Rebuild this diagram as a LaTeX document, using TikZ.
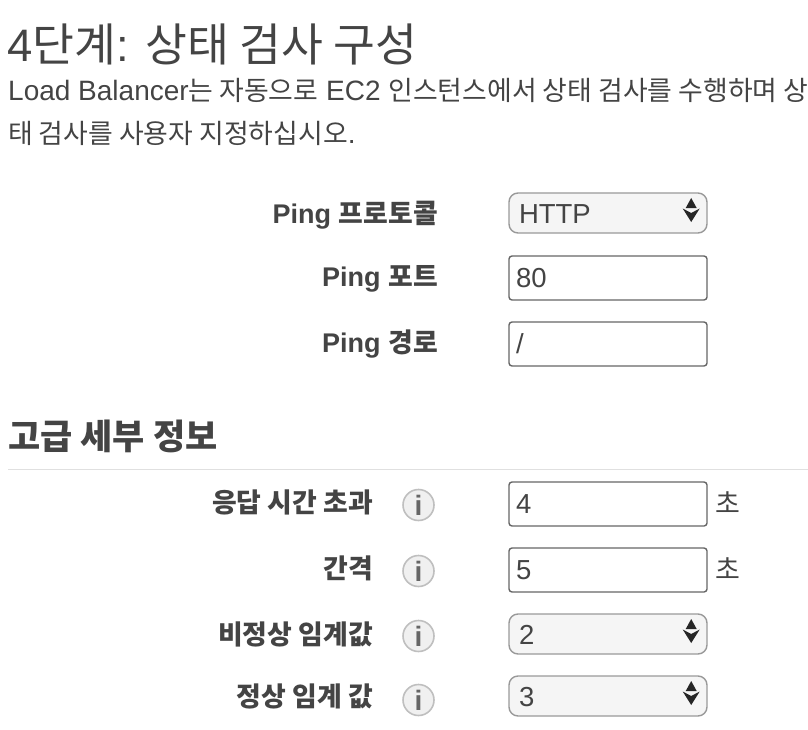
\documentclass[tikz,border=0pt]{standalone}
\usepackage{fontspec}
\setmainfont{Liberation Sans}
\newfontfamily\kofont[Scale=0.9]{Noto Sans CJK KR}
\newfontfamily\kolabel[Scale=0.96]{Noto Sans CJK KR}
\newfontfamily\kotall{Noto Sans CJK KR}
\newcommand{\ko}[1]{{\kofont #1}}
\newcommand{\kol}[1]{{\kolabel #1}}
\definecolor{inktext}{HTML}{444444}
\definecolor{boxline}{HTML}{666666}
\definecolor{selline}{HTML}{999999}
\definecolor{selfill}{HTML}{F5F5F5}
\usetikzlibrary{positioning}
\tikzset{
    plaintext/.style = {inner sep=0pt,anchor=base west,text=inktext},
    fieldlabel/.style = {inner sep=0pt,anchor=base east,text=inktext,font=\fontsize{28}{28}\selectfont\bfseries},
    inputbox/.style = {rectangle,rounded corners=3pt,draw=boxline,line width=1.4pt,fill=white,minimum width=198pt,minimum height=44pt,text width=184pt,align=left,text=inktext,font=\fontsize{27.5}{27.5}\selectfont},
    selectbox/.style = {rectangle,rounded corners=9pt,draw=selline,line width=1.4pt,fill=selfill,minimum width=198pt,minimum height=40pt,text width=178pt,align=left,text=inktext,text height=21pt,text depth=0pt,font=\fontsize{27.5}{27.5}\selectfont},
    infocircle/.style = {circle,draw=black!25,line width=1.6pt,fill=black!6,minimum size=31pt,inner sep=0pt,text=black!60,font=\fontsize{28}{28}\selectfont\bfseries}
}

\begin{document}
\begin{tikzpicture}[x=1pt,y=-1pt]
  \useasboundingbox (0,0) rectangle (808,730);
  \clip (0,0) rectangle (808,730);

  % heading and intro
  \node[plaintext,font=\fontsize{45.5}{45.5}\selectfont] (title) at (7,62) {4{\kotall 단계}: {\kotall 상태 검사 구성}};
  \node[plaintext,font=\fontsize{28}{28}\selectfont] (introa) at (8,101) {Load Balancer\kol{는 자동으로} EC2 \kol{인스턴스에서 상태 검사를 수행하며 상태}};
  \node[plaintext,font=\fontsize{28}{28}\selectfont] (introb) at (8,144) {\kol{태 검사를 사용자 지정하십시오}.};

  % ping settings
  \node[fieldlabel] (lblproto) at (438,223) {{\fontsize{27}{27}\selectfont Ping} \kol{프로토콜}};
  \node[fieldlabel] (lblport) at (438,286) {{\fontsize{27}{27}\selectfont Ping} \kol{포트}};
  \node[fieldlabel] (lblpath) at (438,352) {{\fontsize{27}{27}\selectfont Ping} \kol{경로}};
  \node[selectbox] (selproto) at (608,213) {HTTP};
  \node[inputbox] (inport) at (608,278) {80};
  \node[inputbox] (inpath) at (608,344) {/};

  % advanced part
  \node[plaintext,font=\fontsize{35}{35}\selectfont\bfseries] (advanced) at (8,449) {{\kotall 고급 세부 정보}};
  \coordinate (ruleleft) at (8,469);
  \coordinate (ruleright) at (808,469);
  \draw[black!12,line width=1pt] (ruleleft) -- (ruleright);

  \node[fieldlabel] (lbltimeout) at (373,512) {\kol{응답 시간 초과}};
  \node[fieldlabel] (lblgap) at (373,578) {\kol{간격}};
  \node[fieldlabel] (lblbad) at (373,644) {\kol{비정상 임계값}};
  \node[fieldlabel] (lblgood) at (373,706) {\kol{정상 임계 값}};

  \node[infocircle] (infoa) at (418.5,505) {i};
  \node[infocircle] (infob) at (418.5,571) {i};
  \node[infocircle] (infoc) at (418.5,636) {i};
  \node[infocircle] (infod) at (418.5,700) {i};

  \node[inputbox] (intimeout) at (608,504) {4};
  \node[inputbox] (ingap) at (608,570) {5};
  \node[selectbox] (selbad) at (608,634) {2};
  \node[selectbox] (selgood) at (608,696) {3};

  \node[plaintext,font=\fontsize{30}{30}\selectfont] (seca) at (715,513) {\ko{초}};
  \node[plaintext,font=\fontsize{30}{30}\selectfont] (secb) at (715,579) {\ko{초}};

  % spinner arrows
  \foreach \sel in {selproto,selbad,selgood} {
    \fill[black!85] ([xshift=-16.5pt]\sel.east) ++(0,-15) -- ++(5.5,10) -- ++(-11,0) -- cycle;
    \fill[black!85] ([xshift=-16.5pt]\sel.east) ++(0,0) -- ++(8.5,-4.5) -- ++(-8.5,13.5) -- ++(-8.5,-13.5) -- cycle;
  }
\end{tikzpicture}
\end{document}
